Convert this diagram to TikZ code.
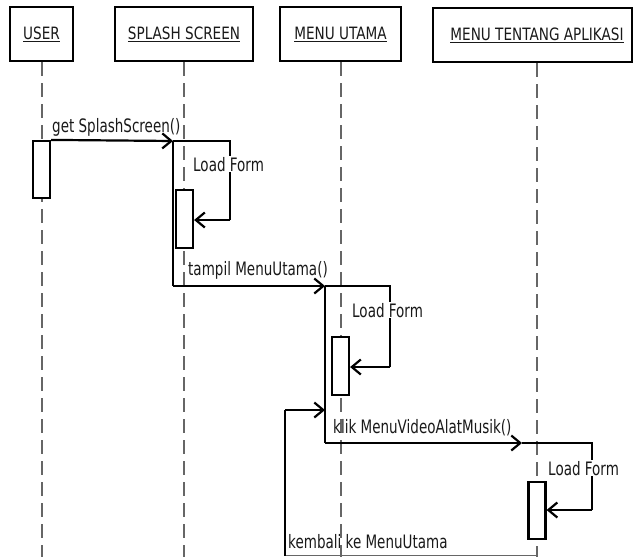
\documentclass[tikz,border=0pt]{standalone}
\usepackage{fontspec}
\setmainfont{DejaVu Sans}[FakeStretch=0.73]
\newfontfamily\hfont{DejaVu Sans}[FakeStretch=0.80]
\usetikzlibrary{arrows.meta}
\begin{document}
\begin{tikzpicture}[x=1pt,y=-1pt,
 head/.style={draw, line width=2.8pt, minimum height=54pt, inner sep=0pt, font=\hfont\fontsize{17}{17}\selectfont, text=black!90},
 life/.style={draw=black!60, line width=2pt, dash pattern=on 14pt off 7pt},
 act/.style={draw, fill=white, line width=2.2pt, minimum width=17pt, inner sep=0pt},
 line/.style={line width=2.2pt},
 msg/.style={line width=2.2pt, -{Straight Barb[length=9pt,width=15pt,line width=2.2pt]}},
 lbl/.style={inner sep=0pt, anchor=base west, font=\fontsize{18.5}{18.5}\selectfont, text=black!90},
 lblw/.style={lbl, fill=white, inner sep=1pt}
]
\useasboundingbox (0,0) rectangle (634,557);
% headers
\node[head, minimum width=63pt]  (userH)   at (41.5,34)  {\underline{USER}};
\node[head, minimum width=138pt] (splashH) at (184,34)   {\underline{SPLASH SCREEN}};
\node[head, minimum width=121pt] (menuH)   at (340.5,34) {\underline{MENU UTAMA}};
\node[head, minimum width=199pt] (tentH)   at (532.5,35) {};
\node[font=\hfont\fontsize{17}{17}\selectfont, text=black!90, inner sep=0pt] (tentT) at (537,35) {\underline{MENU TENTANG APLIKASI}};
% lifeline ends
\coordinate (userE)   at (41.5,557);
\coordinate (splashE) at (184,557);
\coordinate (menuE)   at (340.5,557);
\coordinate (tentE)   at (537,557);
\draw[life] (userH.south)   -- (userE);
\draw[life] (splashH.south) -- (splashE);
\draw[life] (menuH.south)   -- (menuE);
\draw[life] (tentH.south -| tentE) -- (tentE);
% activations
\node[act, minimum height=57pt] (a1) at (41.5,169.5) {};
\node[act, minimum height=58pt] (a2) at (184.5,219)  {};
\node[act, minimum height=58pt] (a3) at (340.5,366)  {};
\node[act, minimum height=57pt] (a4) at (537,510.5)  {};
% coordinates of message paths
\coordinate (s1)  at (173,141);
\coordinate (s1r) at (230,141);
\coordinate (s1d) at (230,220);
\coordinate (s2)  at (173,286);
\coordinate (m1)  at (325,286);
\coordinate (m1r) at (390,286);
\coordinate (m1d) at (390,367);
\coordinate (m2)  at (325,443);
\coordinate (t1)  at (522,443);
\coordinate (t1r) at (592,443);
\coordinate (t1d) at (592,510);
\coordinate (r0)  at (537,555.5);
\coordinate (r1)  at (285,555.5);
\coordinate (r2)  at (285,410);
\coordinate (r3)  at (325,410);
% messages
\draw[msg] (a1.north east) -- (s1);
\draw[line] (s1) -- (s1r) -- (s1d);
\draw[msg] (s1d) -- (a2.east |- s1d);
\draw[line] (s1) -- (s2);
\draw[msg] (s2) -- (m1);
\draw[line] (m1) -- (m1r) -- (m1d);
\draw[msg] (m1d) -- (a3.east |- m1d);
\draw[line] (m1) -- (m2);
\draw[msg] (m2) -- (t1);
\draw[line] (t1) -- (t1r) -- (t1d);
\draw[msg] (t1d) -- (a4.east |- t1d);
\draw[line, draw=black!60, line width=1.4pt] (r0) -- (r1);
\draw[line] (r1) -- (r2);
\draw[msg] (r2) -- (r3);
% labels
\node[lbl]  (l1) at (52,132)  {get SplashScreen()};
\node[lblw] (l2) at (192,171) {Load Form};
\node[lbl]  (l3) at (188,275) {tampil MenuUtama()};
\node[lblw] (l4) at (351,317) {Load Form};
\node[lbl]  (l5) at (333,433) {klik MenuVideoAlatMusik()};
\node[lblw] (l6) at (547,475) {Load Form};
\node[lbl]  (l7) at (288,548) {kembali ke MenuUtama};
\end{tikzpicture}
\end{document}
